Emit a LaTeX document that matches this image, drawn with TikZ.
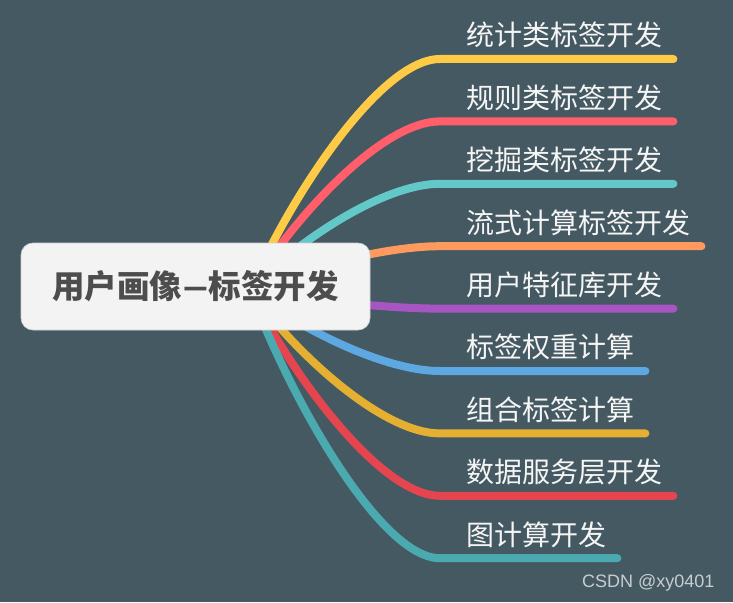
\documentclass[tikz,border=0pt]{standalone}
\usepackage{fontspec}
\newfontfamily\cjk{Noto Sans CJK SC}
\newfontfamily\wmfont{Liberation Sans}
\usepackage{tikz}
\usetikzlibrary{calc}
\usepackage{xcolor}
\definecolor{slatebg}{RGB}{69,89,98}
\definecolor{boxgrey}{RGB}{243,243,243}
\definecolor{inkgrey}{RGB}{77,77,77}
\definecolor{leafwhite}{RGB}{245,245,245}
\definecolor{markgrey}{RGB}{200,205,208}
\definecolor{cyellow}{RGB}{255,203,71}
\definecolor{cred}{RGB}{255,94,106}
\definecolor{cteal}{RGB}{99,200,200}
\definecolor{corange}{RGB}{255,154,94}
\definecolor{cpurple}{RGB}{168,85,196}
\definecolor{cblue}{RGB}{93,168,224}
\definecolor{cgold}{RGB}{229,176,50}
\definecolor{cdeepred}{RGB}{229,69,79}
\definecolor{cdeepteal}{RGB}{74,170,176}
\newcommand{\widedash}{\scalebox{1.5}[1]{–}}

\begin{document}
\begin{tikzpicture}[x=1pt, y=-1pt,
    rootbox/.style={rectangle, fill=boxgrey, draw=boxgrey!85!black, line width=0.6pt,
        rounded corners=12pt, minimum width=349pt, minimum height=87pt,
        font=\cjk\bfseries\fontsize{32.5}{38}\selectfont, text=inkgrey},
    leaf/.style={anchor=south west, inner xsep=11pt, inner ysep=13pt,
        text depth=0pt, font=\cjk\fontsize{28}{34}\selectfont, text=leafwhite},
    branch/.style={line width=8pt, line cap=round}
]
    \useasboundingbox (0,0) rectangle (733,602);
    \fill[slatebg] (0,0) rectangle (733,602);

    % Branch labels
    \foreach \n/\yy/\txt in {1/59/统计类标签开发, 2/121.4/规则类标签开发,
        3/183.8/挖掘类标签开发, 4/246.2/流式计算标签开发, 5/308.6/用户特征库开发,
        6/371/标签权重计算, 7/433.4/组合标签计算, 8/495.8/数据服务层开发,
        9/558.2/图计算开发}
        \node[leaf] (b\n) at (455,\yy) {\txt};

    % Curves from the centre
    \coordinate (hub) at (250,290);
    \foreach \n/\yy/\col in {1/59/cyellow, 2/121.4/cred, 3/183.8/cteal,
        4/246.2/corange, 5/308.6/cpurple, 6/371/cblue, 7/433.4/cgold,
        8/495.8/cdeepred, 9/558.2/cdeepteal}
        \draw[branch, \col] (hub) .. controls (290,{290+0.4*(\yy-290)}) and (380,\yy)
            .. ([xshift=-15pt]b\n.south west) -- (b\n.south east);

    % Central topic
    \node[rootbox] (root) at (195.5,286.5) {用户画像\widedash 标签开发};

    \node[anchor=base west, inner sep=0pt, font=\wmfont\fontsize{18}{22}\selectfont,
        text=markgrey] (mark) at (582,587) {CSDN @xy0401};
\end{tikzpicture}
\end{document}
